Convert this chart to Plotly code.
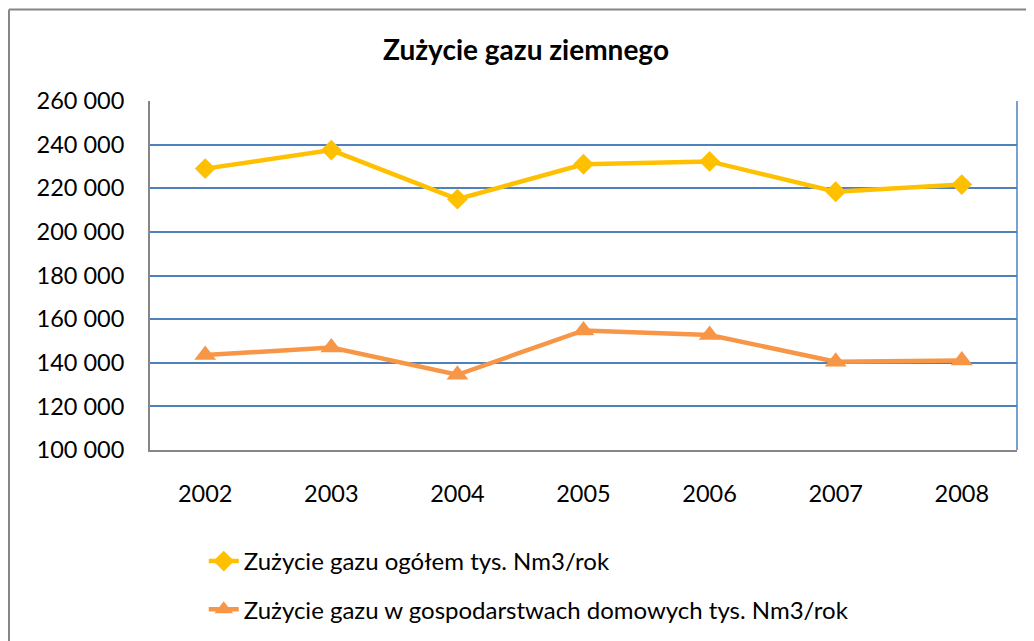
import plotly.graph_objects as go

years = ["2002", "2003", "2004", "2005", "2006", "2007", "2008"]
total_use = [229000, 237500, 215000, 231000, 232300, 218400, 221700]
household_use = [143500, 147000, 134500, 154800, 152700, 140500, 141000]
series_names = ["Zużycie gazu ogółem tys. Nm3/rok",
                "Zużycie gazu w gospodarstwach domowych tys. Nm3/rok"]
title_text = "Zużycie gazu ziemnego"
y_ticks = [100000, 120000, 140000, 160000, 180000, 200000, 220000, 240000, 260000]

FONT = "Lato"
# page body has an 8px offset; figure coordinates below account for it
L, T, PW, PH = 142, 93, 867, 349

fig = go.Figure()
fig.add_trace(go.Scatter(
    x=years, y=total_use, name=series_names[0], mode="lines+markers",
    legendgroup="a",
    line=dict(color="#FFC000", width=4.5),
    marker=dict(symbol="diamond", size=16, color="#FFC000"),
))
fig.add_trace(go.Scatter(
    x=years, y=household_use, name=series_names[1], mode="lines+markers",
    legendgroup="b",
    line=dict(color="#F79646", width=4.5),
    marker=dict(symbol="triangle-up", size=19, color="#F79646"),
))

fig.update_layout(
    width=1034, height=641,
    margin=dict(l=L, r=1034 - L - PW, t=T, b=641 - T - PH),
    paper_bgcolor="white", plot_bgcolor="white",
    separators=", ",
    font=dict(family=FONT, size=23, color="black"),
    title=dict(text=title_text, x=518 / 1034, xref="container", xanchor="center",
               y=1 - 42 / 641, yref="container", yanchor="middle",
               font=dict(family=FONT, size=28, color="black", weight="bold")),
    showlegend=True,
    legend=dict(orientation="v", x=0.062, xanchor="left", y=-0.255, yanchor="top",
                font=dict(family=FONT, size=24), tracegroupgap=14,
                bgcolor="rgba(0,0,0,0)"),
    xaxis=dict(type="category", showline=True, linecolor="#868686", linewidth=2,
               showgrid=False, ticks="", ticklabelstandoff=22,
               tickfont=dict(family=FONT, size=23.5)),
    yaxis=dict(range=[100000, 260000], tickvals=y_ticks, tickformat=",d",
               showline=True, linecolor="#868686", linewidth=2,
               showgrid=True, gridcolor="#4F81BD", gridwidth=1.5,
               zeroline=False, ticks="", ticklabelstandoff=19,
               tickfont=dict(family=FONT, size=23.5)),
    shapes=[
        dict(type="line", xref="paper", yref="paper", x0=1, x1=1, y0=0, y1=1,
             line=dict(color="#4F81BD", width=1.5)),
        dict(type="line", xref="paper", yref="paper",
             x0=(1 - L) / PW, x1=(1 - L) / PW,
             y0=(T + PH - 1.5) / PH, y1=(T + PH - 660) / PH,
             line=dict(color="#868686", width=2)),
        dict(type="line", xref="paper", yref="paper",
             x0=(1 - L) / PW, x1=(1040 - L) / PW,
             y0=(T + PH - 1.5) / PH, y1=(T + PH - 1.5) / PH,
             line=dict(color="#868686", width=2)),
    ],
)

fig.write_html("out.html")
